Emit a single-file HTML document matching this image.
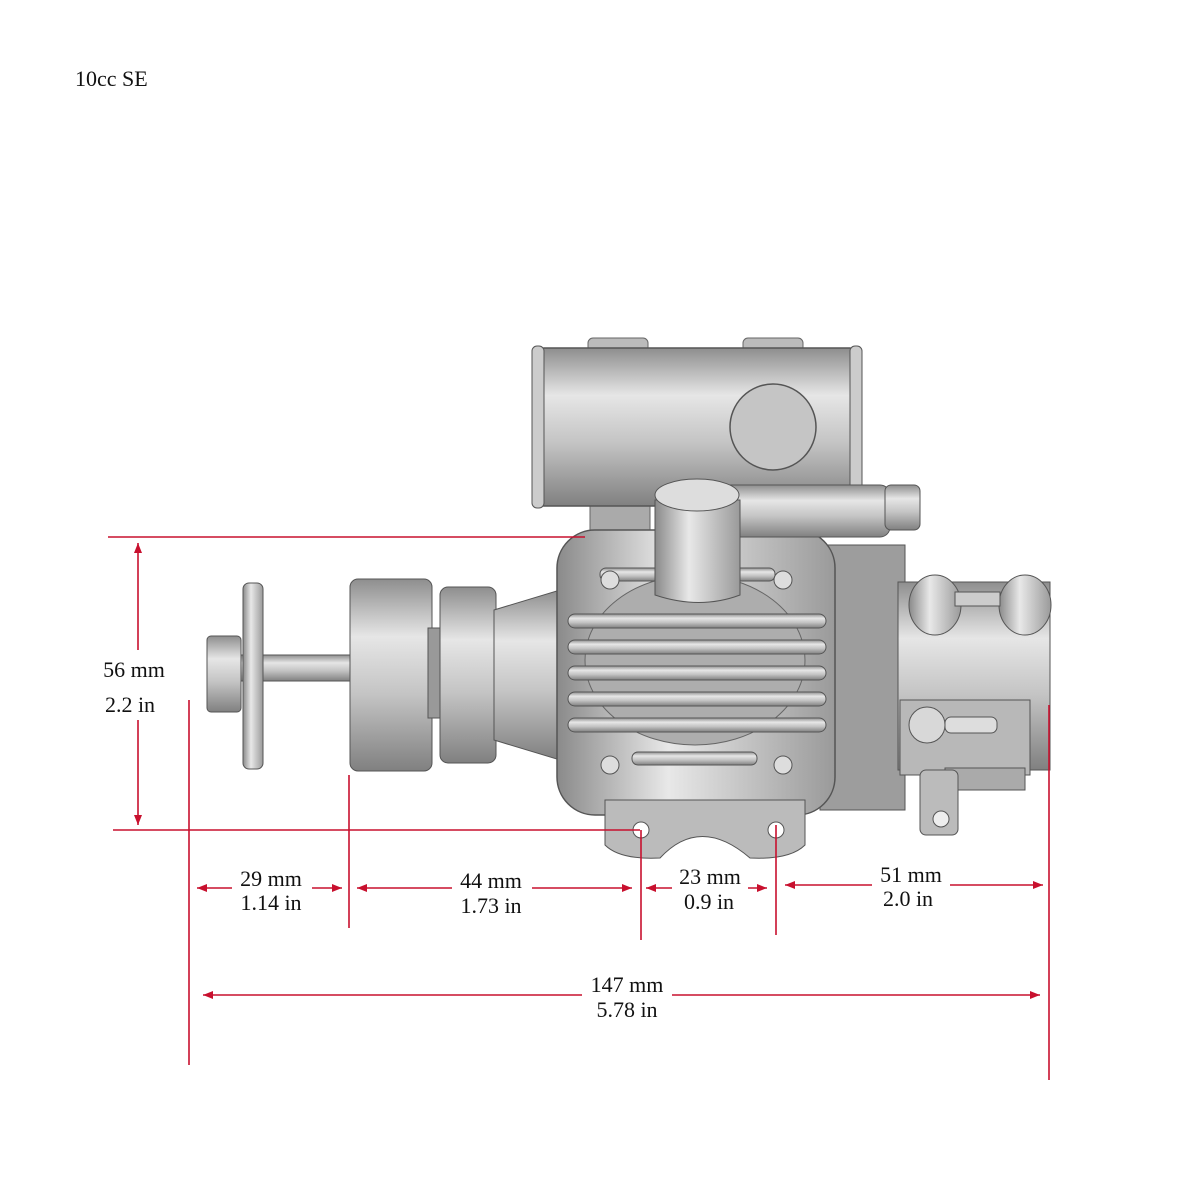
<!DOCTYPE html>
<html><head><meta charset="utf-8"><style>
html,body{margin:0;padding:0;background:#fff;}
svg{display:block}
text{font-family:"Liberation Serif",serif;fill:#111}
</style></head><body>
<svg width="1200" height="1200" viewBox="0 0 1200 1200" xmlns="http://www.w3.org/2000/svg">
<defs>
<linearGradient id="gv" x1="0" y1="0" x2="0" y2="1">
<stop offset="0" stop-color="#8e8e8e"/><stop offset="0.3" stop-color="#e6e6e6"/><stop offset="0.6" stop-color="#c4c4c4"/><stop offset="1" stop-color="#808080"/></linearGradient>
<linearGradient id="gh" x1="0" y1="0" x2="1" y2="0">
<stop offset="0" stop-color="#8a8a8a"/><stop offset="0.4" stop-color="#e8e8e8"/><stop offset="1" stop-color="#9a9a9a"/></linearGradient>
<marker id="a" markerWidth="10" markerHeight="8" refX="10" refY="4" orient="auto-start-reverse" markerUnits="userSpaceOnUse"><path d="M0,0 L10,4 L0,8 z" fill="#c8102e"/></marker>
</defs>
<text x="75" y="86" font-size="22">10cc SE</text>

<!-- muffler -->
<rect x="588" y="338" width="60" height="14" rx="5" fill="#bbb" stroke="#666"/>
<rect x="743" y="338" width="60" height="14" rx="5" fill="#bbb" stroke="#666"/>
<rect x="590" y="490" width="60" height="60" fill="#aaa" stroke="#666"/>
<rect x="534" y="348" width="326" height="158" rx="10" fill="url(#gv)" stroke="#555" stroke-width="1.5"/>
<rect x="532" y="346" width="12" height="162" rx="5" fill="#ccc" stroke="#555"/>
<rect x="850" y="346" width="12" height="162" rx="5" fill="#ccc" stroke="#555"/>
<circle cx="773" cy="427" r="43" fill="#c5c5c5" stroke="#555" stroke-width="1.5"/>

<!-- back parts -->
<rect x="820" y="545" width="85" height="265" fill="#9d9d9d" stroke="#555"/>
<!-- carb -->
<rect x="898" y="582" width="152" height="188" fill="url(#gv)" stroke="#555"/>
<rect x="900" y="700" width="130" height="75" fill="#b8b8b8" stroke="#555"/>
<rect x="945" y="768" width="80" height="22" fill="#aaa" stroke="#555"/>
<rect x="920" y="770" width="38" height="65" rx="6" fill="#bbb" stroke="#555"/>
<circle cx="941" cy="819" r="8" fill="#eee" stroke="#555"/>
<ellipse cx="935" cy="605" rx="26" ry="30" fill="url(#gh)" stroke="#555"/>
<ellipse cx="1025" cy="605" rx="26" ry="30" fill="url(#gh)" stroke="#555"/>
<rect x="955" y="592" width="45" height="14" fill="#ccc" stroke="#555"/>
<circle cx="927" cy="725" r="18" fill="#d8d8d8" stroke="#555"/>
<rect x="945" y="717" width="52" height="16" rx="6" fill="#ddd" stroke="#555"/>

<!-- shaft -->
<rect x="240" y="655" width="112" height="26" fill="url(#gv)" stroke="#555"/>
<rect x="207" y="636" width="34" height="76" rx="4" fill="url(#gv)" stroke="#555"/>
<rect x="243" y="583" width="20" height="186" rx="6" fill="url(#gh)" stroke="#555"/>
<rect x="350" y="579" width="82" height="192" rx="8" fill="url(#gv)" stroke="#555"/>
<rect x="428" y="628" width="14" height="90" fill="#999" stroke="#555"/>
<rect x="440" y="587" width="56" height="176" rx="8" fill="url(#gv)" stroke="#555"/>
<path d="M494 610 L560 590 L560 760 L494 740 z" fill="url(#gv)" stroke="#555"/>

<!-- cylinder head -->
<rect x="557" y="530" width="278" height="285" rx="38" fill="url(#gh)" stroke="#555" stroke-width="1.5"/>
<path d="M605 800 L805 800 L805 845 Q790 860 750 858 Q700 815 660 858 Q620 860 605 845 z" fill="#bbb" stroke="#555"/>
<circle cx="641" cy="830" r="8" fill="#fff" stroke="#555"/>
<circle cx="776" cy="830" r="8" fill="#fff" stroke="#555"/>
<ellipse cx="695" cy="660" rx="110" ry="85" fill="#adadad" stroke="#666"/>
<g fill="url(#gv)" stroke="#555">
<rect x="600" y="568" width="175" height="13" rx="6"/>
<rect x="568" y="614" width="258" height="14" rx="7"/>
<rect x="568" y="640" width="258" height="14" rx="7"/>
<rect x="568" y="666" width="258" height="14" rx="7"/>
<rect x="568" y="692" width="258" height="14" rx="7"/>
<rect x="568" y="718" width="258" height="14" rx="7"/>
<rect x="632" y="752" width="125" height="13" rx="6"/>
</g>
<circle cx="610" cy="580" r="9" fill="#ddd" stroke="#555"/>
<circle cx="783" cy="580" r="9" fill="#ddd" stroke="#555"/>
<circle cx="610" cy="765" r="9" fill="#ddd" stroke="#555"/>
<circle cx="783" cy="765" r="9" fill="#ddd" stroke="#555"/>

<!-- plug cap -->
<rect x="720" y="485" width="170" height="52" rx="10" fill="url(#gv)" stroke="#555"/>
<rect x="885" y="485" width="35" height="45" rx="6" fill="url(#gv)" stroke="#555"/>
<path d="M655 500 L740 500 L740 595 Q700 610 655 595 z" fill="url(#gh)" stroke="#555"/>
<ellipse cx="697" cy="495" rx="42" ry="16" fill="#ddd" stroke="#555"/>

<!-- dimensions -->
<g stroke="#c8102e" stroke-width="1.6" fill="none">
<line x1="108" y1="537" x2="585" y2="537"/>
<line x1="113" y1="830" x2="640" y2="830"/>
<line x1="138" y1="543" x2="138" y2="825" marker-start="url(#a)" marker-end="url(#a)"/>
<line x1="189" y1="700" x2="189" y2="1065"/>
<line x1="349" y1="775" x2="349" y2="928"/>
<line x1="641" y1="830" x2="641" y2="940"/>
<line x1="776" y1="825" x2="776" y2="935"/>
<line x1="1049" y1="705" x2="1049" y2="1080"/>
<line x1="197" y1="888" x2="342" y2="888" marker-start="url(#a)" marker-end="url(#a)"/>
<line x1="357" y1="888" x2="632" y2="888" marker-start="url(#a)" marker-end="url(#a)"/>
<line x1="646" y1="888" x2="767" y2="888" marker-start="url(#a)" marker-end="url(#a)"/>
<line x1="785" y1="885" x2="1043" y2="885" marker-start="url(#a)" marker-end="url(#a)"/>
<line x1="203" y1="995" x2="1040" y2="995" marker-start="url(#a)" marker-end="url(#a)"/>
</g>
<g font-size="22" text-anchor="middle">
<rect x="95" y="650" width="80" height="70" fill="#fff"/>
<text x="134" y="677">56 mm</text><text x="130" y="712">2.2 in</text>
<rect x="232" y="868" width="80" height="45" fill="#fff"/>
<text x="271" y="886">29 mm</text><text x="271" y="910">1.14 in</text>
<rect x="452" y="870" width="80" height="45" fill="#fff"/>
<text x="491" y="888">44 mm</text><text x="491" y="913">1.73 in</text>
<rect x="672" y="866" width="76" height="45" fill="#fff"/>
<text x="710" y="884">23 mm</text><text x="709" y="909">0.9 in</text>
<rect x="872" y="864" width="78" height="45" fill="#fff"/>
<text x="911" y="882">51 mm</text><text x="908" y="906">2.0 in</text>
<rect x="582" y="974" width="90" height="45" fill="#fff"/>
<text x="627" y="992">147 mm</text><text x="627" y="1017">5.78 in</text>
</g>
</svg>
</body></html>
